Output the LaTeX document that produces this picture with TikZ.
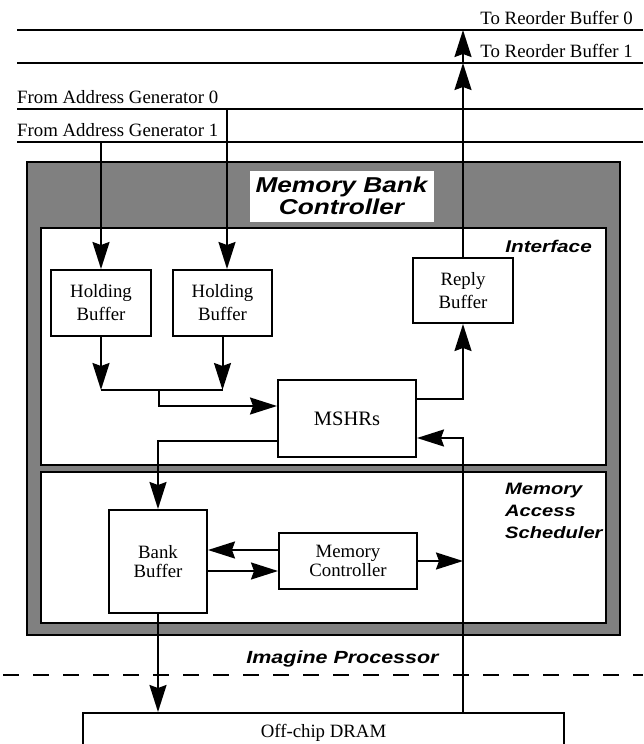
\documentclass[tikz,border=0pt]{standalone}
\usepackage{fontspec}
\setmainfont{Liberation Serif}
\newfontfamily\tagfont[FakeStretch=1.22]{Liberation Sans}
\usetikzlibrary{arrows.meta,positioning}
\definecolor{framegray}{gray}{0.5}
\tikzset{
  wire/.style={line width=2pt},
  arr/.style={line width=2pt,-{Stealth[length=27pt,width=17pt,inset=3pt]}},
  buffer/.style={draw,line width=2pt,fill=white,align=center,font=\fontsize{18.8}{23}\selectfont},
  frame/.style={draw,line width=2pt},
  plain/.style={font=\fontsize{18.8}{23}\selectfont,inner sep=0pt},
  tag/.style={font=\tagfont\bfseries\itshape\fontsize{17}{22}\selectfont,inner sep=0pt},
}

\begin{document}
\begin{tikzpicture}[x=1pt,y=-1pt]
	\useasboundingbox (0,0) rectangle (643,744);
	\clip (0,0) rectangle (643,744);
	% buses to and from the bank
	\foreach \y in {30,63,109,142}
		\draw[wire] (17,\y) -- (643,\y);
	\node at (633,24)[plain,anchor=base east] (rob0) {To Reorder Buffer 0};
	\node at (633,57)[plain,anchor=base east] (rob1) {To Reorder Buffer 1};
	\node at (17,103)[plain,anchor=base west] (ag0lbl) {From Address Generator 0};
	\node at (17,136)[plain,anchor=base west] (ag1lbl) {From Address Generator 1};
	% frames
	\node at (323.5,398.5)[frame,fill=framegray,minimum width=593pt,minimum height=473pt] (mbc) {};
	\node at (323.5,346.5)[frame,fill=white,minimum width=565pt,minimum height=237pt] (intf) {};
	\node at (323.5,547.5)[frame,fill=white,minimum width=565pt,minimum height=151pt] (mas) {};
	\node at (341.5,196)[fill=white,minimum width=184pt,minimum height=51pt,align=center,inner sep=0pt,
		font=\tagfont\bfseries\itshape\fontsize{21.5}{22}\selectfont] (mbclbl) {Memory Bank\\Controller};
	\node at (592,252)[tag,anchor=base east] (intflbl) {Interface};
	\node at (505,483)[tag,anchor=north west,align=left,font=\tagfont\bfseries\itshape\fontsize{16.5}{22}\selectfont] (maslbl) {Memory\\Access\\Scheduler};
	\node at (342.5,663)[tag,anchor=base,font=\tagfont\bfseries\itshape\fontsize{17.6}{22}\selectfont] (imlbl) {Imagine Processor};
	\draw[wire,dash pattern=on 16pt off 14pt] (3,675) -- (643,675);
	% blocks
	\node at (101,303)[buffer,minimum width=100pt,minimum height=66pt] (hb1) {Holding\\Buffer};
	\node at (222.5,303)[buffer,minimum width=99pt,minimum height=66pt] (hb2) {Holding\\Buffer};
	\node at (463,290.5)[buffer,minimum width=100pt,minimum height=65pt] (reply) {Reply\\Buffer};
	\node at (347,418.5)[buffer,minimum width=138pt,minimum height=77pt,font=\fontsize{20.5}{23}\selectfont] (mshr) {MSHRs};
	\node at (158,561.5)[buffer,minimum width=98pt,minimum height=103pt,font=\fontsize{18.8}{19}\selectfont] (bb) {Bank\\Buffer};
	\node at (348,561)[buffer,minimum width=138pt,minimum height=56pt,font=\fontsize{18.8}{18.5}\selectfont] (mc) {Memory\\Controller};
	\node at (323.5,733)[buffer,minimum width=481pt,minimum height=40pt] (dram) {Off-chip DRAM};
	% taps on the buses
	\coordinate (ag0) at ([xshift=4.5pt]hb2.north |- 0,109);
	\coordinate (ag1) at (hb1.north |- 0,142);
	\coordinate (rb1) at (reply.north |- 0,63);
	\coordinate (rb0) at (reply.north |- 0,30);
	\coordinate (m1) at (hb1.south |- 0,390);
	\coordinate (m2) at (hb2.south |- 0,390);
	\coordinate (mj) at (159,390);
	% connectors
	\draw[arr] (ag1) -- (hb1.north);
	\draw[arr] (ag0) -- (ag0 |- hb2.north);
	\draw[arr] (hb1.south) -- (m1);
	\draw[arr] (hb2.south) -- (m2);
	\draw[wire] (m1) -- (m2);
	\draw[arr] (mj) |- ([yshift=12.5pt]mshr.west);
	\draw[arr] ([yshift=19.5pt]mshr.east) -| (reply.south);
	\draw[arr] (reply.north) -- (rb1);
	\draw[arr] (rb1) -- (rb0);
	\draw[arr] ([yshift=-22.5pt]mshr.west) -| (bb.north);
	\draw[arr] (reply.south |- dram.north) |- ([yshift=-19.5pt]mshr.east);
	\draw[arr] ([yshift=11pt]mc.west) -- ([yshift=11pt]mc.west -| bb.east);
	\draw[arr] ([yshift=-10pt]mc.west -| bb.east) -- ([yshift=-10pt]mc.west);
	\draw[arr] (mc.east) -- (mc.east -| reply.south);
	\draw[arr] (bb.south) -- (bb.south |- dram.north);
\end{tikzpicture}
\end{document}
